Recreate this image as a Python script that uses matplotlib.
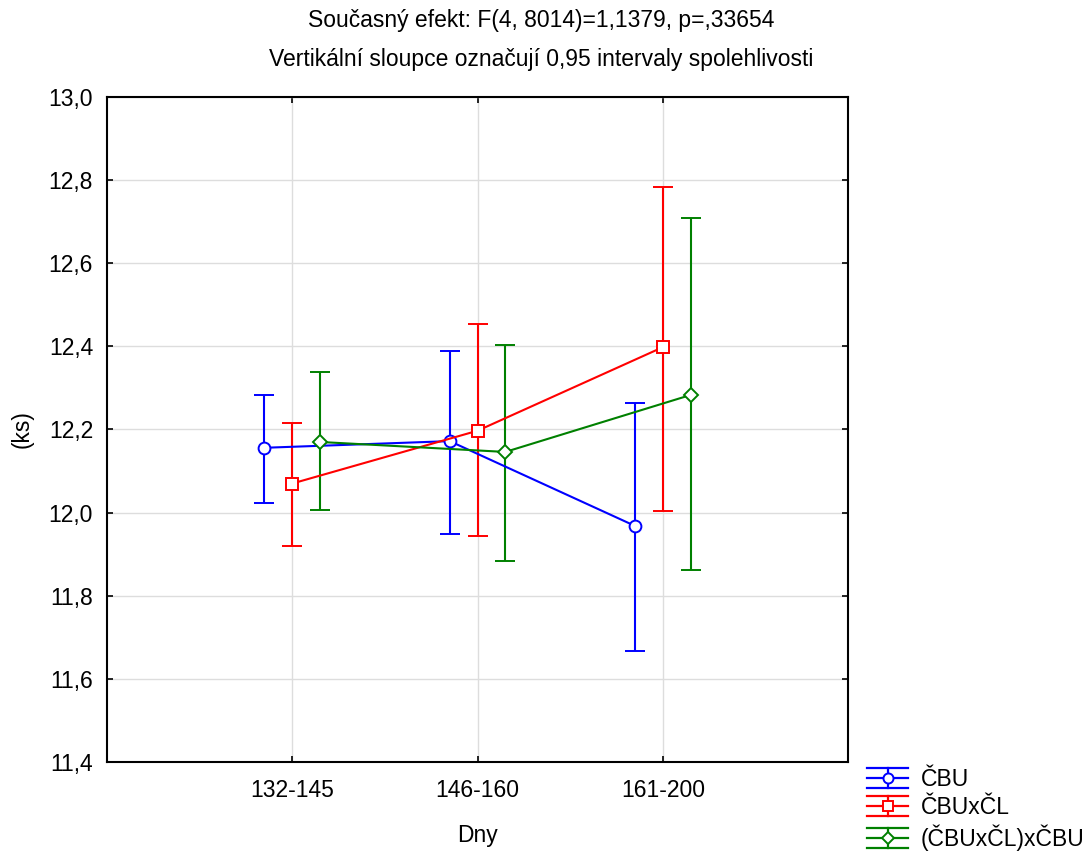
import matplotlib.pyplot as plt
import numpy as np
from matplotlib.ticker import FuncFormatter
from matplotlib.legend_handler import HandlerBase
from matplotlib.container import ErrorbarContainer
from matplotlib.lines import Line2D

plt.rcParams['font.family'] = ['Liberation Sans', 'DejaVu Sans']

# data
groups = ['132-145', '146-160', '161-200']
series = ['ČBU', 'ČBUxČL', '(ČBUxČL)xČBU']
means = {
    'ČBU': [12.156, 12.172, 11.968],
    'ČBUxČL': [12.070, 12.197, 12.398],
    '(ČBUxČL)xČBU': [12.170, 12.146, 12.283],
}
lower = {
    'ČBU': [12.023, 11.948, 11.667],
    'ČBUxČL': [11.920, 11.944, 12.004],
    '(ČBUxČL)xČBU': [12.006, 11.884, 11.862],
}
upper = {
    'ČBU': [12.283, 12.389, 12.264],
    'ČBUxČL': [12.216, 12.454, 12.783],
    '(ČBUxČL)xČBU': [12.338, 12.403, 12.709],
}
colors = ['#0000ff', '#ff0000', '#008000']
markers = ['o', 's', 'D']
offsets = [-0.15, 0.0, 0.15]
FS = 16.5


# legend icon like the original: caps as wide as the line
class ErrHandler(HandlerBase):
    def create_artists(self, legend, orig_handle, xdescent, ydescent,
                       width, height, fontsize, trans):
        ln = orig_handle.lines[0]
        c = ln.get_color()
        x0 = -xdescent
        cy = -ydescent + height / 2
        h = height * 0.62
        arts = []
        for yy in (cy - h, cy, cy + h):
            arts.append(Line2D([x0, x0 + width], [yy, yy], color=c, lw=1.6))
        arts.append(Line2D([x0 + width / 2] * 2, [cy - h, cy + h], color=c, lw=1.6))
        arts.append(Line2D([x0 + width / 2], [cy], marker=ln.get_marker(),
                           markersize=ln.get_markersize() * 0.85, mfc='white',
                           mec=c, mew=1.4, ls='none'))
        for a in arts:
            a.set_transform(trans)
        return arts


fig = plt.figure(figsize=(10.85, 8.52), dpi=100)
ax = fig.add_axes([0.0986, 0.1056, 0.683, 0.7806])

x = np.arange(1, len(groups) + 1)
for name, c, m, off in zip(series, colors, markers, offsets):
    y = np.array(means[name])
    err = [y - np.array(lower[name]), np.array(upper[name]) - y]
    ax.errorbar(x + off, y, yerr=err, color=c, marker=m,
                markersize=8.5 if m != 'D' else 7.5, mfc='white', mec=c, mew=1.4,
                lw=1.5, elinewidth=1.5, capsize=7, capthick=1.5, label=name)

ax.set_xlim(0, 4)
ax.set_ylim(11.4, 13.0)
ax.set_xticks(x)
ax.set_xticklabels(groups)
ax.set_yticks(np.arange(11.4, 13.01, 0.2))
ax.yaxis.set_major_formatter(FuncFormatter(lambda v, p: f'{v:.1f}'.replace('.', ',')))
ax.grid(True, color='#dddddd', lw=1)
ax.set_axisbelow(True)
ax.tick_params(direction='in', length=4, width=1.2, labelsize=FS, pad=12,
               top=True, right=True)
ax.tick_params(axis='y', pad=10)
for s in ax.spines.values():
    s.set_linewidth(1.5)

ax.set_xlabel('Dny', fontsize=FS, labelpad=16)
ax.set_ylabel('(ks)', fontsize=FS, labelpad=11)
fig.text(0.4986, 0.9765, 'Současný efekt: F(4, 8014)=1,1379, p=,33654',
         ha='center', va='center', fontsize=FS)
fig.text(0.4986, 0.9296, 'Vertikální sloupce označují 0,95 intervaly spolehlivosti',
         ha='center', va='center', fontsize=FS)

fig.legend(loc='lower left', bbox_to_anchor=(0.795, -0.004), frameon=False,
           fontsize=FS, handlelength=1.8, handletextpad=0.55, labelspacing=0.22,
           borderaxespad=0, borderpad=0.2,
           handler_map={ErrorbarContainer: ErrHandler()})

fig.savefig('out.png', dpi=100)
